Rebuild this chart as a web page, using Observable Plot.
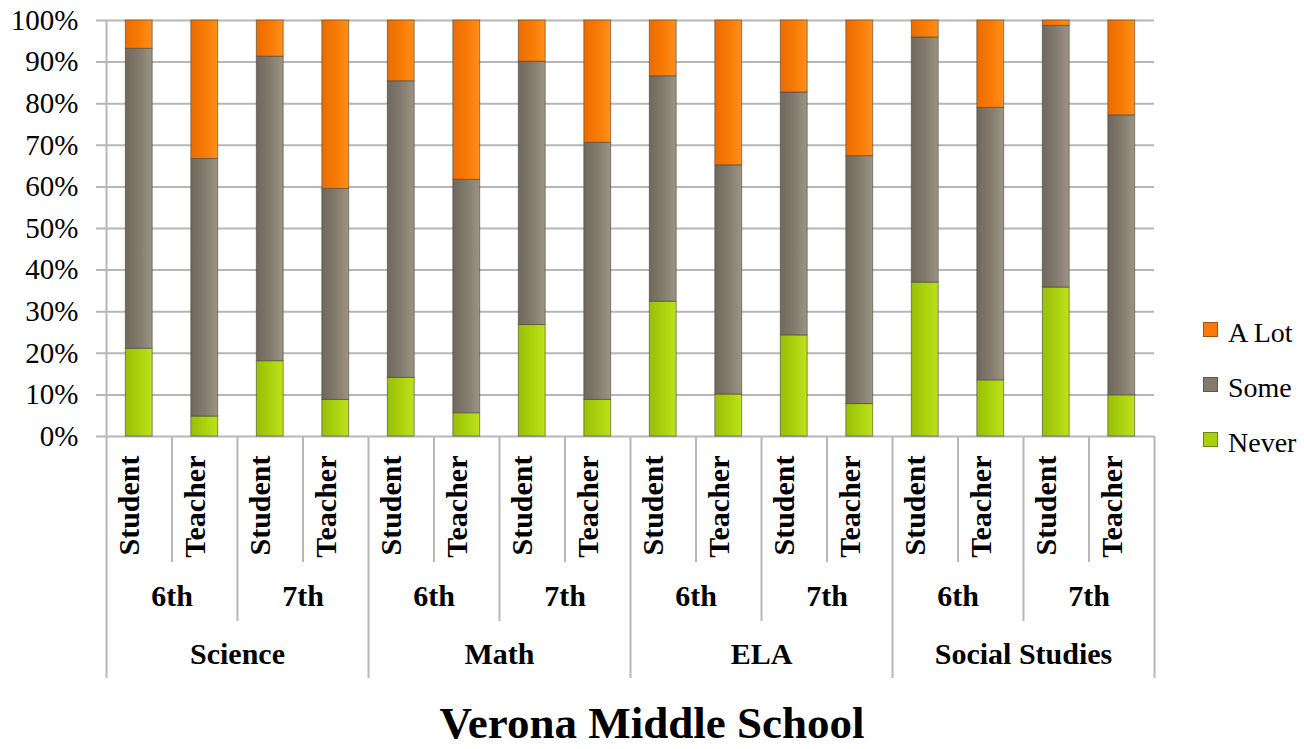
<!DOCTYPE html>
<html>
<head>
<meta charset="utf-8">
<script src="https://cdn.jsdelivr.net/npm/d3@7"></script>
<script src="https://cdn.jsdelivr.net/npm/@observablehq/plot@0.6"></script>
<style>
  body { margin: 0; background: #fff; font-family: "Liberation Serif", serif; }
  #wrap { position: relative; width: 1304px; height: 749px; overflow: hidden; }
  #title { position: absolute; left: 0; top: 705px; width: 1304px; text-align: center;
           font-family: "Liberation Serif", serif;
           font-size: 45px; font-weight: bold; line-height: 36px; color: #000; }
  #legend { position: absolute; left: 1203px; top: 305px; font-family: "Liberation Serif", serif; }
  .item { display: flex; align-items: center; height: 55px; font-size: 28px; color: #000; font-family: "Liberation Serif", serif; }
  .sw { width: 15px; height: 15px; margin-right: 10px; margin-top: -6px; box-sizing: border-box; border: 1px solid rgba(60,50,30,0.5); }
</style>
</head>
<body>
<div id="wrap">
  <div id="chart"></div>
  <div id="legend"></div>
  <div id="title">Verona Middle School</div>
</div>
<script>
// ---- data ----
const subjects = ["Science", "Math", "ELA", "Social Studies"];
const grades = ["6th", "7th"];
const roles = ["Student", "Teacher"];
const responses = ["Never", "Some", "A Lot"];
// one value per bar, in order Science 6th Student, Science 6th Teacher, Science 7th Student, ...
const never = [21.1, 4.8, 18.1, 8.8, 14.1, 5.6, 26.8, 8.8, 32.4, 10.1, 24.3, 7.8, 37.0, 13.5, 35.8, 9.9];
const some  = [72.1, 61.9, 73.2, 50.7, 71.3, 56.1, 63.3, 61.8, 54.2, 55.1, 58.4, 59.6, 58.9, 65.5, 62.9, 67.3];
const aLot  = [6.8, 33.3, 8.7, 40.5, 14.6, 38.3, 9.9, 29.4, 13.4, 34.8, 17.3, 32.6, 4.1, 21.0, 1.3, 22.8];
const yTicks = [0, 10, 20, 30, 40, 50, 60, 70, 80, 90, 100];

// ---- build table ----
const values = [never, some, aLot];
const keys = [];
const rows = [];
subjects.forEach((s, si) => grades.forEach((g, gi) => roles.forEach((r, ri) => {
  const i = si * 4 + gi * 2 + ri;
  const key = `${s}|${g}|${r}`;
  keys.push(key);
  responses.forEach((resp, k) => rows.push({key, subject: s, grade: g, role: r, response: resp, value: values[k][i]}));
})));

const W = 1304, H = 690, mL = 106, mR = 150, mT = 20, mB = 254;
const step = (W - mL - mR) / keys.length;
const gridColor = "#b7b7b7";
const font = "Liberation Serif, serif";
const fillRange = ["url(#gNever)", "url(#gSome)", "url(#gALot)"];
const swatch = {"Never": "#a8d00e", "Some": "#837b6d", "A Lot": "#f77a0a"};

const chart = Plot.plot({
  width: W, height: H,
  marginLeft: mL, marginRight: mR, marginTop: mT, marginBottom: mB,
  style: {fontFamily: font, background: "#fff", color: "#000"},
  x: {domain: keys, paddingInner: 0.59, paddingOuter: 0.295, round: false, axis: null},
  y: {domain: [0, 100], axis: null},
  color: {domain: responses, range: fillRange},
  marks: [
    Plot.ruleY(yTicks, {stroke: gridColor, strokeWidth: 2, insetLeft: -10}),
    Plot.barY(rows, {x: "key", y: "value", fill: "response", stroke: "#4a4336", strokeOpacity: 0.6, strokeWidth: 1}),
    Plot.axisY({ticks: yTicks, tickSize: 0, tickPadding: 28, tickFormat: d => d + "%", fontSize: 29, fontFamily: font, label: null}),
    // y-axis line / first separator
    Plot.ruleX([keys[0]], {dx: -step / 2, stroke: gridColor, strokeWidth: 2, insetBottom: -242}),
    // role separators
    Plot.ruleX(keys.filter((k, i) => i % 2 === 1), {dx: -step / 2, stroke: gridColor, strokeWidth: 2, insetTop: H - mT - mB, insetBottom: -126}),
    // grade separators
    Plot.ruleX(keys.filter((k, i) => i % 4 === 2), {dx: -step / 2, stroke: gridColor, strokeWidth: 2, insetTop: H - mT - mB, insetBottom: -185}),
    // subject separators
    Plot.ruleX(keys.filter((k, i) => i % 4 === 0 && i > 0), {dx: -step / 2, stroke: gridColor, strokeWidth: 2, insetTop: H - mT - mB, insetBottom: -242}),
    Plot.ruleX([keys[keys.length - 1]], {dx: step / 2, stroke: gridColor, strokeWidth: 2, insetTop: H - mT - mB, insetBottom: -242}),
    // role labels
    Plot.text(keys, {x: d => d, text: d => d.split("|")[2], rotate: -90, textAnchor: "end", frameAnchor: "bottom", dy: 19, fontSize: 30, fontWeight: "bold", fontFamily: font, fill: "#000"}),
    // grade labels
    Plot.text(keys.filter((k, i) => i % 2 === 0), {x: d => d, text: d => d.split("|")[1], dx: step / 2, frameAnchor: "bottom", dy: 169, fontSize: 30, fontWeight: "bold", fontFamily: font, fill: "#000"}),
    // subject labels
    Plot.text(keys.filter((k, i) => i % 4 === 1), {x: d => d, text: d => d.split("|")[0], dx: step / 2, frameAnchor: "bottom", dy: 227, fontSize: 30, fontWeight: "bold", fontFamily: font, fill: "#000"})
  ]
});

// gradients for the bevelled bar look
const defs = document.createElementNS("http://www.w3.org/2000/svg", "defs");
defs.innerHTML = `
  <linearGradient id="gNever" x1="0" x2="1" y1="0" y2="0">
    <stop offset="0" stop-color="#98bf06"/><stop offset="0.5" stop-color="#a9d20e"/><stop offset="1" stop-color="#bde21a"/>
  </linearGradient>
  <linearGradient id="gSome" x1="0" x2="1" y1="0" y2="0">
    <stop offset="0" stop-color="#6f685c"/><stop offset="0.5" stop-color="#827a6c"/><stop offset="1" stop-color="#9c9484"/>
  </linearGradient>
  <linearGradient id="gALot" x1="0" x2="1" y1="0" y2="0">
    <stop offset="0" stop-color="#ea6c00"/><stop offset="0.5" stop-color="#f77a05"/><stop offset="1" stop-color="#ff8f1c"/>
  </linearGradient>`;
chart.insertBefore(defs, chart.firstChild);
document.getElementById("chart").appendChild(chart);

// legend (top to bottom: A Lot, Some, Never)
const legend = document.getElementById("legend");
responses.slice().reverse().forEach(r => {
  const item = document.createElement("div");
  item.className = "item";
  const sw = document.createElement("span");
  sw.className = "sw";
  sw.style.background = swatch[r];
  const t = document.createElement("span");
  t.textContent = r;
  item.appendChild(sw);
  item.appendChild(t);
  legend.appendChild(item);
});
</script>
</body>
</html>
